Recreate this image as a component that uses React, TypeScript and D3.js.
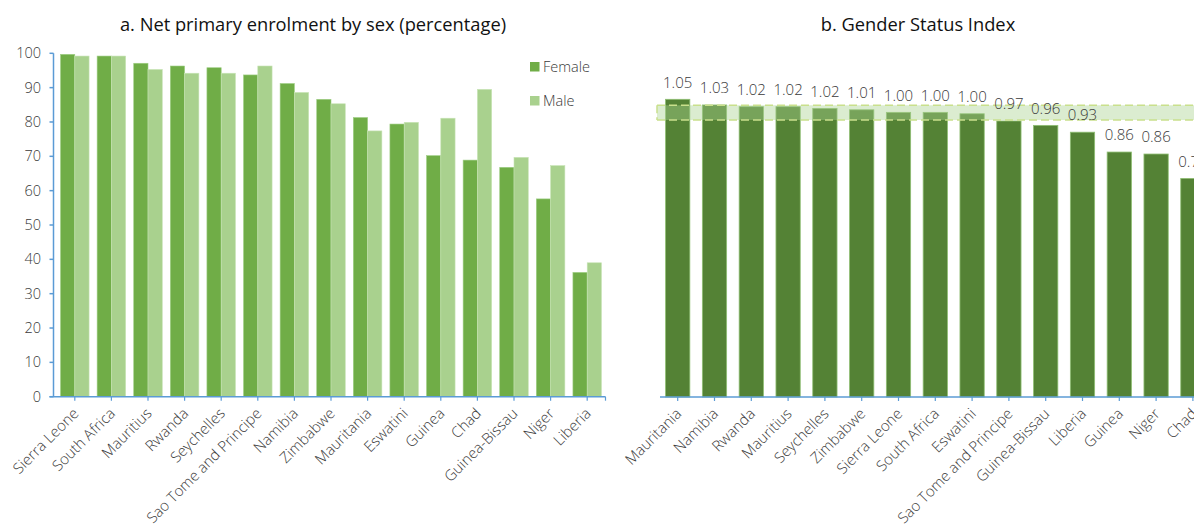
import React from "react";
import * as d3 from "d3";

const catsA = ["Sierra Leone","South Africa","Mauritius","Rwanda","Seychelles","Sao Tome and Principe","Namibia","Zimbabwe","Mauritania","Eswatini","Guinea","Chad","Guinea-Bissau","Niger","Liberia"];
const female = [99.7,99.2,97.1,96.3,95.8,93.7,91.2,86.6,81.3,79.4,70.2,68.9,66.8,57.6,36.2];
const male = [99.2,99.2,95.3,94.2,94.2,96.3,88.6,85.3,77.4,79.9,81.1,89.5,69.7,67.3,39.0];
const ticksA = [0,10,20,30,40,50,60,70,80,90,100];
const seriesA = ["Female","Male"];

const catsB = ["Mauritania","Namibia","Rwanda","Mauritius","Seychelles","Zimbabwe","Sierra Leone","South Africa","Eswatini","Sao Tome and Principe","Guinea-Bissau","Liberia","Guinea","Niger","Chad"];
const gsi = [1.05,1.03,1.024,1.024,1.018,1.013,1.004,1.004,0.999,0.9735,0.958,0.934,0.864,0.857,0.771];
const parityBand = [0.977,1.029];

const FONT = "'Open Sans', 'Noto Sans', sans-serif";
const AXIS = "#5B9BD5";
const TXT = "#3a3a3a";
const C_F = "#70AD47";
const C_M = "#A9D18E";
const C_B = "#548235";

export default function App() {
  const W = 1194, H = 527;
  const xA = d3.scaleBand<string>().domain(catsA).range([56.5, 605.5]).paddingInner(0.22).paddingOuter(0.11);
  const xSub = d3.scaleBand<string>().domain(seriesA).range([0, xA.bandwidth()]);
  const yA = d3.scaleLinear().domain([0, 100]).range([396.7, 53.3]);
  const axA = 53.5;
  const baseA = yA(0);
  const xB = d3.scaleBand<string>().domain(catsB).range([659.3, 1211.3]).paddingInner(0.34).paddingOuter(0.17);
  const yB = d3.scaleLinear().domain([0, 1.05]).range([397, 99.3]);
  const baseB = yB(0);

  const catLabel = (txt: string, x: number, y: number, key: string) => (
    <text key={key} x={0} y={0} transform={`translate(${x},${y}) rotate(-45)`} textAnchor="end" dy="0.35em" fontSize={15} fontWeight={300} fill={TXT} fontFamily={FONT}>{txt}</text>
  );

  return (
    <svg width={W} height={H} style={{ position: "absolute", left: 0, top: 0, background: "#fff" }}>
      <text x={313} y={31} textAnchor="middle" fontSize={18.3} fontWeight={500} fill="#111" fontFamily={FONT}>a. Net primary enrolment by sex (percentage)</text>
      <text x={918} y={31} textAnchor="middle" fontSize={18.3} fontWeight={500} fill="#111" fontFamily={FONT}>b. Gender Status Index</text>

      {catsA.map((c, i) => (
        <g key={c}>
          <rect x={xA(c)! + xSub("Female")!} y={yA(female[i])} width={xSub.bandwidth()} height={baseA - yA(female[i])} fill={C_F} stroke="#9fcf85" strokeWidth={0.6} />
          <rect x={xA(c)! + xSub("Male")!} y={yA(male[i])} width={xSub.bandwidth()} height={baseA - yA(male[i])} fill={C_M} stroke="#c8e4b6" strokeWidth={0.6} />
        </g>
      ))}
      <line x1={axA} x2={axA} y1={yA(100)} y2={baseA} stroke={AXIS} strokeWidth={1.5} />
      {ticksA.map(t => (
        <g key={t}>
          <line x1={axA - 4} x2={axA} y1={yA(t)} y2={yA(t)} stroke={AXIS} strokeWidth={1.5} />
          <text x={41} y={yA(t)} dy="0.35em" textAnchor="end" fontSize={14.5} fontWeight={300} fill={TXT} fontFamily={FONT}>{t}</text>
        </g>
      ))}
      <line x1={axA - 4} x2={605.5} y1={baseA} y2={baseA} stroke={AXIS} strokeWidth={1.5} />
      {catsA.map(c => (
        <line key={c} x1={xA(c)! + xA.bandwidth() / 2} x2={xA(c)! + xA.bandwidth() / 2} y1={baseA} y2={baseA + 4} stroke={AXIS} strokeWidth={1.2} />
      ))}
      <line x1={605.5} x2={605.5} y1={baseA} y2={baseA + 4} stroke={AXIS} strokeWidth={1.2} />
      {catsA.map(c => catLabel(c, xA(c)! + xA.bandwidth() / 2 + 1, baseA + 14, "la" + c))}
      <rect x={530} y={62} width={9.5} height={9.5} fill={C_F} />
      <text x={543} y={67} dy="0.35em" fontSize={14.5} fontWeight={300} fill={TXT} fontFamily={FONT}>Female</text>
      <rect x={530} y={96} width={9.5} height={9.5} fill={C_M} />
      <text x={543} y={101} dy="0.35em" fontSize={14.5} fontWeight={300} fill={TXT} fontFamily={FONT}>Male</text>

      {catsB.map((c, i) => (
        <rect key={c} x={xB(c)!} y={yB(gsi[i])} width={xB.bandwidth()} height={baseB - yB(gsi[i])} fill={C_B} stroke="#8fbf73" strokeWidth={0.8} />
      ))}
      <rect x={657} y={yB(parityBand[1])} width={W - 657 + 20} height={yB(parityBand[0]) - yB(parityBand[1])} fill="rgba(169,209,142,0.42)" />
      <line x1={657} x2={W + 20} y1={yB(parityBand[1])} y2={yB(parityBand[1])} stroke="#c9e08c" strokeWidth={1.5} strokeDasharray="8,4" />
      <line x1={657} x2={W + 20} y1={yB(parityBand[0])} y2={yB(parityBand[0])} stroke="#c9e08c" strokeWidth={1.5} strokeDasharray="8,4" />
      <line x1={657} x2={657} y1={yB(parityBand[1])} y2={yB(parityBand[0])} stroke="#c9e08c" strokeWidth={1.5} strokeDasharray="8,4" />
      {catsB.map((c, i) => (
        <text key={"v" + c} x={xB(c)! + xB.bandwidth() / 2} y={yB(gsi[i]) - 17} dy="0.35em" textAnchor="middle" fontSize={15} fontWeight={300} fill={TXT} fontFamily={FONT}>{d3.format(".2f")(gsi[i])}</text>
      ))}
      <line x1={660} x2={W + 20} y1={baseB} y2={baseB} stroke={AXIS} strokeWidth={1.5} />
      {catsB.map(c => (
        <line key={"t" + c} x1={xB(c)! + xB.bandwidth() / 2} x2={xB(c)! + xB.bandwidth() / 2} y1={baseB} y2={baseB + 4} stroke={AXIS} strokeWidth={1.2} />
      ))}
      {catsB.map(c => catLabel(c, xB(c)! + xB.bandwidth() / 2 + 1, baseB + 14, "lb" + c))}
    </svg>
  );
}
